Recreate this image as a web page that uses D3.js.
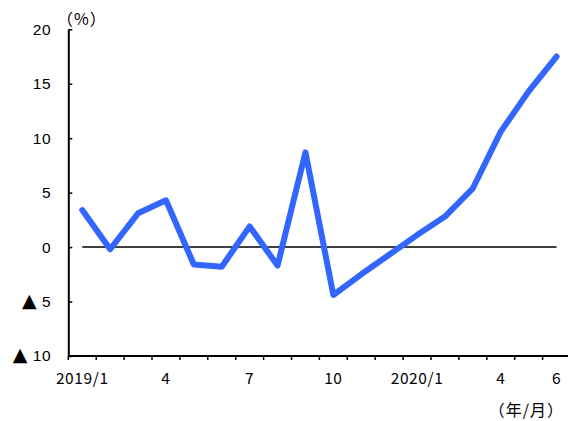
<!DOCTYPE html>
<html><head><meta charset="utf-8">
<script src="https://cdn.jsdelivr.net/npm/d3@7"></script>
<style>
html,body{margin:0;padding:0;background:#fff;}
svg{display:block;font-family:"Noto Sans CJK JP","Noto Sans",sans-serif;}
</style></head>
<body>
<script>
const months = ["2019/1","2019/2","2019/3","2019/4","2019/5","2019/6","2019/7","2019/8","2019/9","2019/10","2019/11","2019/12",
                "2020/1","2020/2","2020/3","2020/4","2020/5","2020/6"];
const values = [3.4, -0.2, 3.1, 4.3, -1.6, -1.8, 1.9, -1.7, 8.7, -4.4, -2.5, -0.7, 1.1, 2.8, 5.4, 10.6, 14.3, 17.5];
const xLabels = {"2019/1":"2019/1","2019/4":"4","2019/7":"7","2019/10":"10","2020/1":"2020/1","2020/4":"4","2020/6":"6"};
const yTicks = [-10, -5, 0, 5, 10, 15, 20];

const W = 568, H = 421;
const svg = d3.select("body").append("svg").attr("width", W).attr("height", H);

const x = d3.scaleBand().domain(months).range([68.3, 570.5]).padding(0);
const y = d3.scaleLinear().domain([-10, 20]).range([356, 29.3]);
const cx = m => x(m) + x.bandwidth() / 2;

// y axis
const yAxis = d3.axisLeft(y).tickValues(yTicks).tickSize(-4).tickSizeOuter(0).tickPadding(17)
  .tickFormat(v => String(Math.abs(v)));
const gy = svg.append("g").attr("transform", "translate(68.3,0)").call(yAxis);
gy.select(".domain").attr("stroke", "#000").attr("stroke-width", 2);
gy.selectAll(".tick line").attr("stroke", "#000").attr("stroke-width", 1.5);
gy.selectAll(".tick text").attr("font-size", 15.5).attr("letter-spacing", 0.6).attr("fill", "#000")
  .each(function(v) {
    if (v < 0) {
      const t = d3.select(this);
      const num = t.text();
      t.text(null);
      t.append("tspan").attr("font-size", 19).attr("font-family", "DejaVu Sans").text("▲");
      t.append("tspan").text(" " + num);
    }
  });

// x axis line + ticks at band boundaries
const gx = svg.append("g");
gx.append("line").attr("x1", 68.3).attr("x2", W).attr("y1", y(-10)).attr("y2", y(-10))
  .attr("stroke", "#000").attr("stroke-width", 2);
gx.selectAll("line.t").data(months).join("line").attr("class", "t")
  .attr("x1", d => x(d)).attr("x2", d => x(d)).attr("y1", y(-10)).attr("y2", y(-10) + 4)
  .attr("stroke", "#000").attr("stroke-width", 1.5);
gx.selectAll("text").data(months.filter(m => xLabels[m])).join("text")
  .attr("x", d => cx(d)).attr("y", y(-10) + 28).attr("text-anchor", "middle")
  .attr("font-size", 15.5).attr("letter-spacing", 0.6).attr("fill", "#000").text(d => xLabels[d]);

// zero line
svg.append("line").attr("x1", cx(months[0])).attr("x2", cx(months[months.length - 1]))
  .attr("y1", y(0)).attr("y2", y(0)).attr("stroke", "#000").attr("stroke-width", 1.5);

// data line
const line = d3.line().x((d, i) => cx(months[i])).y(d => y(d));
svg.append("path").datum(values).attr("d", line).attr("fill", "none")
  .attr("stroke", "#3366FF").attr("stroke-width", 6).attr("stroke-linejoin", "round").attr("stroke-linecap", "round");

// unit labels
svg.append("text").attr("x", 57).attr("y", 25).attr("font-size", 16).attr("letter-spacing", 1).attr("fill", "#000").text("（%）");
svg.append("text").attr("x", 564).attr("y", 416).attr("text-anchor", "end").attr("font-size", 16).attr("letter-spacing", 1).attr("fill", "#000").text("（年/月）");
</script>
</body></html>
